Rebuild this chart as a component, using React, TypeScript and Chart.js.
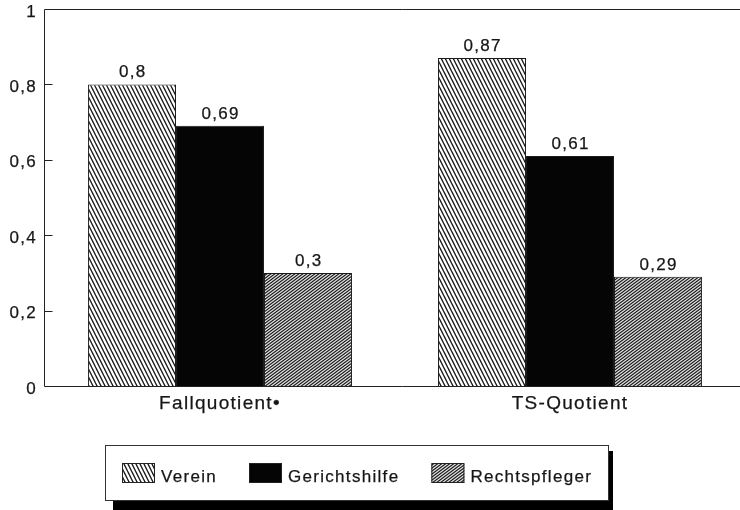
import React, { useEffect, useRef } from 'react';
import { Chart, registerables } from 'chart.js';

Chart.register(...registerables);

const categories = ['Fallquotient•', 'TS-Quotient'];
const seriesNames = ['Verein', 'Gerichtshilfe', 'Rechtspfleger'];
const vereinValues = [0.8, 0.87];
const gerichtshilfeValues = [0.69, 0.61];
const rechtspflegerValues = [0.3, 0.29];
const yTickValues = [0, 0.2, 0.4, 0.6, 0.8, 1];

const FONT = '"Liberation Sans", Arial, Helvetica, sans-serif';
const INK = '#161616';
const STROKE_W = 0.25;

const fmt = (v: number) => String(Math.round(v * 100) / 100).replace('.', ',');

function hatch(w: number, h: number, dir: 'back' | 'fwd', lw: number, bg: string, fg: string) {
  const c = document.createElement('canvas');
  c.width = w;
  c.height = h;
  const g = c.getContext('2d')!;
  g.fillStyle = bg;
  g.fillRect(0, 0, w, h);
  g.strokeStyle = fg;
  g.lineWidth = lw;
  for (const o of [-w, 0, w]) {
    g.beginPath();
    if (dir === 'back') {
      g.moveTo(o - w * 0.5, -h * 0.5);
      g.lineTo(o + w * 1.5, h * 1.5);
    } else {
      g.moveTo(o - w * 0.5, h * 1.5);
      g.lineTo(o + w * 1.5, -h * 0.5);
    }
    g.stroke();
  }
  return g.createPattern(c, 'repeat')!;
}

function boldText(ctx: CanvasRenderingContext2D, text: string, x: number, y: number) {
  ctx.fillText(text, x, y);
  ctx.lineWidth = STROKE_W;
  ctx.strokeStyle = INK;
  ctx.strokeText(text, x, y);
}

export default function App() {
  const ref = useRef<HTMLCanvasElement | null>(null);

  useEffect(() => {
    const canvas = ref.current!;
    const vereinFill = hatch(4, 8, 'back', 1.3, '#ffffff', '#1a1a1a');
    const rechtsFill = hatch(4, 3, 'fwd', 1.2, '#e8e8e8', '#1a1a1a');
    const fills = [vereinFill, '#050505', rechtsFill];
    const seriesValues = [vereinValues, gerichtshilfeValues, rechtspflegerValues];

    const decor = {
      id: 'decor',
      beforeUpdate(chart: any) {
        chart.ctx.letterSpacing = '1.3px';
      },
      beforeDraw(chart: any) {
        const ctx = chart.ctx;
        ctx.save();
        ctx.fillStyle = '#ffffff';
        ctx.fillRect(0, 0, chart.width, chart.height);
        ctx.restore();
        ctx.letterSpacing = '1.3px';
      },
      afterDatasetsDraw(chart: any) {
        const ctx = chart.ctx;
        ctx.save();
        ctx.font = `17px ${FONT}`;
        ctx.fillStyle = INK;
        ctx.textAlign = 'center';
        ctx.textBaseline = 'alphabetic';
        chart.data.datasets.forEach((ds: any, i: number) => {
          const meta = chart.getDatasetMeta(i);
          meta.data.forEach((el: any, j: number) => {
            const p = el.getProps(['x', 'y'], true);
            boldText(ctx, fmt(ds.data[j]), p.x + 0.7, p.y - 7);
          });
        });
        ctx.restore();
      },
      afterDraw(chart: any) {
        const ctx = chart.ctx;
        const y = chart.scales.y;
        const area = chart.chartArea;
        ctx.save();
        ctx.strokeStyle = '#222';
        ctx.lineWidth = 1;
        // frame
        const top = Math.round(y.getPixelForValue(1)) + 0.5;
        const bot = Math.round(y.getPixelForValue(0)) + 0.5;
        const left = Math.round(area.left) - 0.5;
        ctx.beginPath();
        ctx.moveTo(left, top);
        ctx.lineTo(chart.width, top);
        ctx.moveTo(left, top);
        ctx.lineTo(left, bot);
        ctx.lineTo(chart.width, bot);
        ctx.stroke();
        // inward ticks
        yTickValues.forEach((v) => {
          if (v === 0 || v === 1) return;
          const py = Math.round(y.getPixelForValue(v)) + 0.5;
          ctx.beginPath();
          ctx.moveTo(left, py);
          ctx.lineTo(left + 8, py);
          ctx.stroke();
        });

        // legend
        const bx = 105.5, by = 445.5, bw = 503, bh = 55;
        ctx.fillStyle = '#000';
        ctx.fillRect(113, 451, 500, 60);
        ctx.fillStyle = '#fff';
        ctx.fillRect(bx, by, bw, bh);
        ctx.strokeStyle = '#333';
        ctx.lineWidth = 1;
        ctx.strokeRect(bx, by, bw, bh);
        ctx.font = `17px ${FONT}`;
        ctx.textAlign = 'left';
        ctx.textBaseline = 'alphabetic';
        let x = 122;
        chart.data.datasets.forEach((ds: any) => {
          ctx.fillStyle = ds.backgroundColor;
          ctx.fillRect(x, 463, 33, 20);
          ctx.strokeStyle = '#222';
          ctx.lineWidth = 1;
          ctx.strokeRect(x + 0.5, 463.5, 32, 19);
          ctx.fillStyle = INK;
          boldText(ctx, ds.label, x + 39, 482);
          const tw = ctx.measureText(ds.label).width;
          x = x + 39 + tw + 32;
        });
        ctx.restore();
      },
    };

    const chart = new Chart(canvas, {
      type: 'bar',
      data: {
        labels: categories,
        datasets: seriesNames.map((name, i) => ({
          label: name,
          data: seriesValues[i],
          backgroundColor: fills[i] as any,
          borderColor: '#1a1a1a',
          borderWidth: 1,
          categoryPercentage: 0.754,
          barPercentage: 1,
        })),
      },
      options: {
        animation: false,
        responsive: false,
        events: [],
        layout: { padding: { top: 9, left: 0, right: 15, bottom: 0 } },
        plugins: {
          legend: { display: false },
          tooltip: { enabled: false },
          title: { display: false },
        },
        scales: {
          x: {
            grid: { display: false, drawTicks: false },
            border: { display: false },
            ticks: {
              color: INK,
              font: { family: FONT, size: 19 },
              padding: 6,
              maxRotation: 0,
              textStrokeColor: INK,
              textStrokeWidth: STROKE_W,
            },
            afterFit(scale: any) {
              scale.height = 124;
            },
          },
          y: {
            min: 0,
            max: 1,
            grid: { display: false, drawTicks: false },
            border: { display: false },
            afterBuildTicks(scale: any) {
              scale.ticks = yTickValues.map((v) => ({ value: v }));
            },
            ticks: {
              color: INK,
              font: { family: FONT, size: 17 },
              padding: 8,
              labelOffset: 3,
              textStrokeColor: INK,
              textStrokeWidth: STROKE_W,
              callback: (v: any) => fmt(Number(v)),
            },
            afterFit(scale: any) {
              scale.width = 45;
              scale.paddingTop = 0;
              scale.paddingBottom = 0;
            },
          },
        },
      },
      plugins: [decor],
    });

    return () => chart.destroy();
  }, []);

  return (
    <div style={{ position: 'absolute', left: 0, top: 0, width: 740, height: 510, overflow: 'hidden', background: '#fff' }}>
      <canvas ref={ref} width={760} height={510} style={{ display: 'block' }} />
    </div>
  );
}
